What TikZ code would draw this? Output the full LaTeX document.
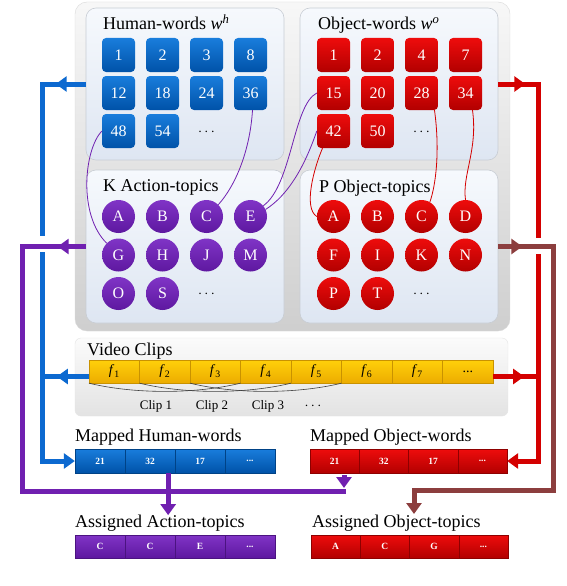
\documentclass[tikz,border=0pt]{standalone}
\usepackage{fontspec}
\setmainfont{Liberation Serif}
\usetikzlibrary{arrows.meta}
\definecolor{bluetop}{RGB}{25,125,220}
\definecolor{bluebot}{RGB}{0,82,168}
\definecolor{redtop}{RGB}{238,12,12}
\definecolor{redbot}{RGB}{178,0,0}
\definecolor{purtop}{RGB}{128,52,198}
\definecolor{purbot}{RGB}{94,24,160}
\definecolor{blueline}{RGB}{12,105,208}
\definecolor{purline}{RGB}{112,32,176}
\definecolor{redline}{RGB}{212,0,0}
\definecolor{brownline}{RGB}{140,62,62}
\definecolor{ylwtop}{RGB}{255,208,10}
\definecolor{ylwbot}{RGB}{236,172,0}
\definecolor{paneltop}{RGB}{246,249,253}
\definecolor{panelbot}{RGB}{222,230,242}
\definecolor{paneledge}{RGB}{200,205,212}
\newcommand{\celldots}{...}
\begin{document}
\begin{tikzpicture}[x=1pt,y=-1pt,
  wsq/.style={rectangle, rounded corners=4pt, minimum width=33pt, minimum height=34pt, inner sep=0pt, text=white, font=\fontsize{16}{16}\selectfont},
  bsq/.style={wsq, top color=bluetop, bottom color=bluebot},
  rsq/.style={wsq, top color=redtop, bottom color=redbot},
  tcirc/.style={circle, minimum size=33pt, inner sep=0pt, text=white, font=\fontsize{16}{16}\selectfont},
  pcirc/.style={tcirc, top color=purtop, bottom color=purbot},
  rcirc/.style={tcirc, top color=redtop, bottom color=redbot},
  panel/.style={rectangle, rounded corners=10pt, top color=paneltop, bottom color=panelbot, draw=paneledge, line width=0.6pt, inner sep=0pt},
  lbl/.style={anchor=base west, font=\fontsize{18}{18}\selectfont, inner sep=0pt},
  dots/.style={font=\fontsize{14}{14}\selectfont, inner sep=0pt},
  ycell/.style={rectangle, minimum width=50.5pt, minimum height=23pt, inner sep=0pt, top color=ylwtop, bottom color=ylwbot, draw=ylwbot!85!black, line width=0.3pt, font=\fontsize{14}{14}\selectfont},
  bcell/.style={rectangle, minimum width=50pt, minimum height=24pt, inner sep=0pt, top color=bluetop, bottom color=bluebot, draw=bluebot!80!black, line width=0.3pt, text=white, font=\bfseries\fontsize{9.5}{9.5}\selectfont},
  rcell/.style={bcell, top color=redtop, bottom color=redbot, draw=redbot!80!black},
  pcell/.style={bcell, top color=purtop, bottom color=purbot, draw=purbot!80!black},
  link/.style={line width=0.8pt},
  fat/.style={line width=5pt},
  tip/.style={-{Triangle[length=11pt,width=15pt]}}
]
\useasboundingbox (0,0) rectangle (566,586);
\fill[white] (0,0) rectangle (566,586);

% outer panel
\node[rectangle, rounded corners=12pt, top color=gray!6, bottom color=gray!38, draw=gray!30, minimum width=435pt, minimum height=329pt, inner sep=0pt] (outer) at (292.5,166.5) {};
\node[panel, minimum width=198pt, minimum height=152pt] (hwpanel) at (185,84) {};
\node[panel, minimum width=198pt, minimum height=152pt] (owpanel) at (399,84) {};
\node[panel, minimum width=198pt, minimum height=153pt] (atpanel) at (185,246.5) {};
\node[panel, minimum width=198pt, minimum height=153pt] (otpanel) at (399,246.5) {};

\node[lbl] (hwl) at (103,30) {Human-words \textit{w}\textsuperscript{\textit{h}}};
\node[lbl] (owl) at (318,30) {Object-words \textit{w}\textsuperscript{\textit{o}}};
\node[lbl] (atl) at (103,191) {K Action-topics};
\node[lbl] (otl) at (319,192) {P Object-topics};

\foreach \t/\c/\r in {1/0/0,2/1/0,3/2/0,8/3/0,12/0/1,18/1/1,24/2/1,36/3/1,48/0/2,54/1/2}
  \node[bsq] (h\t) at ({118.5+44*\c},{55+38*\r}) {\t};
\node[dots] (hdots) at (206.5,132) {$\cdots$};
\foreach \t/\c/\r in {1/0/0,2/1/0,4/2/0,7/3/0,15/0/1,20/1/1,28/2/1,34/3/1,42/0/2,50/1/2}
  \node[rsq] (o\t) at ({333.5+44*\c},{55+38*\r}) {\t};
\node[dots] (odots) at (421.5,132) {$\cdots$};

\foreach \t/\c/\r in {A/0/0,B/1/0,C/2/0,E/3/0,G/0/1,H/1/1,J/2/1,M/3/1,O/0/2,S/1/2}
  \node[pcirc] (a\t) at ({118.5+44*\c},{216.5+38.5*\r}) {\t};
\node[dots] (adots) at (206.5,294) {$\cdots$};
\foreach \t/\c/\r in {A/0/0,B/1/0,C/2/0,D/3/0,F/0/1,I/1/1,K/2/1,N/3/1,P/0/2,T/1/2}
  \node[rcirc] (t\t) at ({333.5+44*\c},{216.5+38.5*\r}) {\t};
\node[dots] (tdots) at (421.5,294) {$\cdots$};

% links
\draw[link, purline] (h48.west) .. controls (84,150) and (78,215) .. (aG.north west);
\draw[link, purline] ([xshift=2pt]h36.south) .. controls (250,150) and (236,185) .. (aC.north east);
\draw[link, purline] (o15.west) .. controls (293,105) and (292,185) .. (aE.40);
\draw[link, purline] (o42.west) .. controls (304,168) and (288,195) .. (aE.25);
\draw[link, redline] ([xshift=-11pt]o42.south) .. controls (314,168) and (303,208) .. (tA.west);
\draw[link, redline] ([xshift=13pt]o28.south) .. controls (440,150) and (436,185) .. (tC.60);
\draw[link, redline] ([xshift=7pt]o34.south) .. controls (478,150) and (462,175) .. (tD.north);

% video clips
\node[rectangle, rounded corners=6pt, top color=gray!3, bottom color=gray!22, draw=gray!20, minimum width=433pt, minimum height=78pt, inner sep=0pt] (vpanel) at (291.5,377) {};
\node[lbl] (vl) at (87,355) {Video Clips};
\foreach \i in {1,2,3,4,5,6,7}
  \node[ycell] (f\i) at ({89+25.25+50.5*(\i-1)},371.5) {\textit{f}\textsubscript{\i}};
\node[ycell] (f8) at ({89+25.25+50.5*7},371.5) {\celldots};
\draw[line width=0.6pt, black!75] (f1.south west) .. controls +(45,11) and +(-45,11) .. (f3.south east);
\draw[line width=0.6pt, black!75] (f2.south west) .. controls +(45,11) and +(-45,11) .. (f4.south east);
\draw[line width=0.6pt, black!75] (f3.south west) .. controls +(45,11) and +(-45,11) .. (f5.south east);
\node[font=\fontsize{13}{13}\selectfont, inner sep=0pt] (c1) at (156,406) {Clip 1};
\node[font=\fontsize{13}{13}\selectfont, inner sep=0pt] (c2) at (212,406) {Clip 2};
\node[font=\fontsize{13}{13}\selectfont, inner sep=0pt] (c3) at (268,406) {Clip 3};
\node[dots] (cdots) at (313,406) {$\cdots$};

% bottom bars
\node[lbl] (mhl) at (75,441.5) {Mapped Human-words};
\node[lbl] (mol) at (310,441.5) {Mapped Object-words};
\node[lbl] (aal) at (75,527) {Assigned Action-topics};
\node[lbl] (aol) at (312,527) {Assigned Object-topics};
\foreach \t/\i in {21/1,32/2,17/3,\celldots/4}
  \node[bcell] (mh\i) at ({75+25+50*(\i-1)},461) {\t};
\foreach \t/\i in {21/1,32/2,17/3,\celldots/4}
  \node[rcell, minimum width=49.25pt] (mo\i) at ({310+24.625+49.25*(\i-1)},461) {\t};
\foreach \t/\i in {C/1,C/2,E/3,\celldots/4}
  \node[pcell, minimum height=23pt] (aa\i) at ({75+25+50*(\i-1)},546.5) {\t};
\foreach \t/\i in {A/1,C/2,G/3,\celldots/4}
  \node[rcell, minimum width=49.25pt, minimum height=23pt] (ao\i) at ({311+24.625+49.25*(\i-1)},546.5) {\t};

% corner coordinates
\coordinate (bx1) at (42,84);
\coordinate (bx2) at (42,236);
\coordinate (bx3) at (42,252);
\coordinate (bx4) at (42,461);
\coordinate (px1) at (22,246.5);
\coordinate (px2) at (22,491);
\coordinate (px3) at (346,491);
\coordinate (px4) at (344,475);
\coordinate (px5) at (344,488);
\coordinate (rx1) at (538,84);
\coordinate (rx2) at (538,238);
\coordinate (rx3) at (538,254);
\coordinate (rx4) at (538,461);
\coordinate (wx1) at (553,246.5);
\coordinate (wx2) at (553,490);
\coordinate (wx3) at (414,490);
\coordinate (wx4) at (414,514);

% blue
\draw[fat, blueline] (hwpanel.west) -- (bx1) -- (bx2);
\draw[fat, blueline, tip] (bx3) -- (bx4) -- (mh1.west);
\draw[fat, blueline] ([yshift=-5pt]f1.west) -- (42,376.5);
\draw[fat, blueline, tip] (hwpanel.west) -- ++(-30,0);
\draw[fat, blueline, tip] ([yshift=-5pt]f1.west) -- ++(-32,0);
% red
\draw[fat, redline] (owpanel.east) -- (rx1) -- (rx2);
\draw[fat, redline, tip] (rx3) -- (rx4) -- (mo4.east);
\draw[fat, redline] ([yshift=-5pt]f8.east) -- (538,376.5);
\draw[fat, redline, tip] (owpanel.east) -- ++(27,0);
\draw[fat, redline, tip] ([yshift=-5pt]f8.east) -- ++(31,0);
% purple
\draw[fat, purline] (atpanel.west) -- (px1) -- (px2) -- (px3);
\draw[fat, purline, tip] (atpanel.west) -- ++(-28,0);
\draw[fat, purline, tip] (px4) -- (px5);
\draw[fat, purline, tip] ([xshift=-7pt]mh2.south east) -- ++(0,42);
% brown
\draw[fat, brownline, tip] (otpanel.east) -- (wx1) -- (wx2) -- (wx3) -- (wx4);
\draw[fat, brownline, tip] (otpanel.east) -- ++(24,0);
\end{tikzpicture}
\end{document}
